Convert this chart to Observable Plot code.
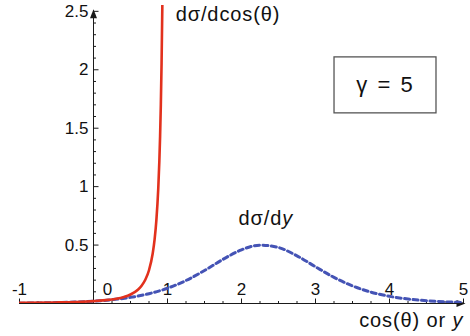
<!DOCTYPE html>
<html><head><meta charset="utf-8">
<script src="https://cdn.jsdelivr.net/npm/d3@7"></script>
<script src="https://cdn.jsdelivr.net/npm/@observablehq/plot@0.6"></script>
<style>body{margin:0;background:#fff}</style>
</head><body><div id="chart"></div>
<script>
// dσ/dcos(θ) (red, solid)
const cosX = [-1, -0.5, -0.25, 0, 0.2, 0.4, 0.5, 0.6, 0.65, 0.7, 0.75, 0.8, 0.825, 0.85, 0.875, 0.89, 0.9, 0.91, 0.92, 0.93, 0.935];
const cosY = [0.0051, 0.0090, 0.0129, 0.020, 0.0309, 0.0541, 0.0769, 0.1177, 0.1517, 0.2027, 0.2845, 0.4279, 0.5445, 0.7155, 0.982, 1.221, 1.432, 1.702, 2.058, 2.537, 2.842];
// dσ/dy (blue, dotted)
const rapX = [-1, -0.75, -0.5, -0.25, 0, 0.25, 0.5, 0.75, 1, 1.25, 1.5, 1.75, 2, 2.25, 2.5, 2.75, 3, 3.25, 3.5, 3.75, 4, 4.25, 4.5, 4.75, 5];
const rapY = [0.0028, 0.0045, 0.0075, 0.0122, 0.020, 0.0326, 0.0526, 0.0837, 0.1305, 0.1968, 0.2825, 0.378, 0.4596, 0.4991, 0.479, 0.408, 0.3143, 0.2237, 0.1505, 0.0974, 0.0616, 0.0383, 0.0236, 0.0145, 0.0088];

const xTicks = [-1, 0, 1, 2, 3, 4, 5];
const xTickLabels = ["-1", "0", "1", "2", "3", "4", "5"];
const yTicks = [0.5, 1, 1.5, 2, 2.5];
const yTickLabels = ["0.5", "1", "1.5", "2", "2.5"];
const xMinor = d3.range(-1, 5.001, 0.25).filter(v => !Number.isInteger(v));
const yMinor = d3.range(0.1, 2.5001, 0.1).map(v => +v.toFixed(1)).filter(v => Math.abs(v * 2 - Math.round(v * 2)) > 1e-6);
const xAxisExtent = [-1, 5];
const yAxisExtent = [0, 2.5];

const gammaText = ["γ = 5"];
const curveLabels = ["dσ/dcos(θ)", "dσ/dy"];
const axisTitle = ["cos(θ) or y"];

const redLine = cosX.map((x, i) => ({x, y: cosY[i]}));
const blueLine = rapX.map((x, i) => ({x, y: rapY[i]}));
const xTickData = xTicks.map((v, i) => ({v, label: xTickLabels[i]}));
const yTickData = yTicks.map((v, i) => ({v, label: yTickLabels[i]}));

const seg = (dx, dy) => ({draw(ctx) { ctx.moveTo(0, 0); ctx.lineTo(dx, dy); }});
const headRight = {draw(ctx) { ctx.moveTo(2, 0); ctx.lineTo(-7, -3.5); ctx.lineTo(-7, 3.5); ctx.closePath(); }};
const headUp = {draw(ctx) { ctx.moveTo(0, -2); ctx.lineTo(-3.5, 7); ctx.lineTo(3.5, 7); ctx.closePath(); }};

const font = "'Liberation Sans', Arial, Helvetica, sans-serif";
const axisColor = "#1a1a1a";

const chart = Plot.plot({
  width: 470, height: 336,
  marginLeft: 19, marginRight: 7, marginTop: 5, marginBottom: 33,
  x: {domain: [-1, 5], axis: null},
  y: {domain: [0, 2.55], axis: null},
  style: {fontFamily: font, background: "#fff", color: "#111"},
  marks: [
    // axes
    Plot.ruleY([0], {x1: xAxisExtent[0], x2: xAxisExtent[1], stroke: axisColor, strokeWidth: 1}),
    Plot.ruleX([0], {y1: yAxisExtent[0], y2: yAxisExtent[1], stroke: axisColor, strokeWidth: 1}),
    Plot.dot([xAxisExtent[1]], {x: d => d, y: () => 0, symbol: headRight, fill: axisColor, stroke: "none"}),
    Plot.dot([yAxisExtent[1]], {x: () => 0, y: d => d, symbol: headUp, fill: axisColor, stroke: "none"}),
    // ticks
    Plot.dot(xMinor, {x: d => d, y: () => 0, symbol: seg(0, -2.5), stroke: axisColor, fill: "none", strokeWidth: 1}),
    Plot.dot(xTicks, {x: d => d, y: () => 0, symbol: seg(0, -5), stroke: axisColor, fill: "none", strokeWidth: 1}),
    Plot.dot(yMinor, {x: () => 0, y: d => d, symbol: seg(2.5, 0), stroke: axisColor, fill: "none", strokeWidth: 1}),
    Plot.dot(yTicks, {x: () => 0, y: d => d, symbol: seg(5, 0), stroke: axisColor, fill: "none", strokeWidth: 1}),
    // tick labels
    Plot.text(xTickData.filter(d => d.v !== 0), {x: "v", y: () => 0, text: "label", dy: -14, fontSize: 17, fill: "#111"}),
    Plot.text(xTickData.filter(d => d.v === 0), {x: "v", y: () => 0, text: "label", dy: -14, dx: 14, fontSize: 17, fill: "#111"}),
    Plot.text(yTickData, {x: () => 0, y: "v", text: "label", dx: -5, textAnchor: "end", fontSize: 17, fill: "#111"}),
    // curves
    Plot.line(blueLine, {x: "x", y: "y", stroke: "#4453b5", strokeWidth: 3, strokeDasharray: "5,3.5", curve: "monotone-x", clip: true}),
    Plot.line(redLine, {x: "x", y: "y", stroke: "#e2311d", strokeWidth: 2.6, curve: "monotone-x", clip: true}),
    // labels
    Plot.text([curveLabels[0]], {x: () => 1.11, y: () => 2.47, text: d => d, textAnchor: "start", fontSize: 20, fill: "#111", style: "letter-spacing:0.8px"}),
    Plot.text([curveLabels[1]], {x: () => 1.96, y: () => 0.73, text: d => d, textAnchor: "start", fontSize: 20, fill: "#111"}),
    Plot.text(axisTitle, {x: () => 5, y: () => 0, dy: 17, text: d => d, textAnchor: "end", fontSize: 20, fill: "#111"}),
    // gamma box
    Plot.rect([0], {x1: () => 3.257, x2: () => 4.635, y1: () => 1.627, y2: () => 2.106, fill: "none", stroke: "#555", strokeWidth: 1.3}),
    Plot.text(gammaText, {x: () => 3.946, y: () => 1.866, text: d => d, fontSize: 22, fill: "#111"})
  ]
});

// italic y in labels, letter spacing
chart.querySelectorAll("text").forEach(t => {
  const s = t.textContent;
  if (s === curveLabels[1] || s === axisTitle[0]) {
    t.textContent = s.slice(0, -1);
    const ts = document.createElementNS("http://www.w3.org/2000/svg", "tspan");
    ts.setAttribute("font-style", "italic");
    ts.textContent = "y";
    t.appendChild(ts);
  }
  if (s === curveLabels[0] || s === curveLabels[1] || s === axisTitle[0]) t.setAttribute("letter-spacing", "0.9");
  if (s === gammaText[0]) t.setAttribute("letter-spacing", "2");
});
document.getElementById("chart").appendChild(chart);
</script>
</body></html>
